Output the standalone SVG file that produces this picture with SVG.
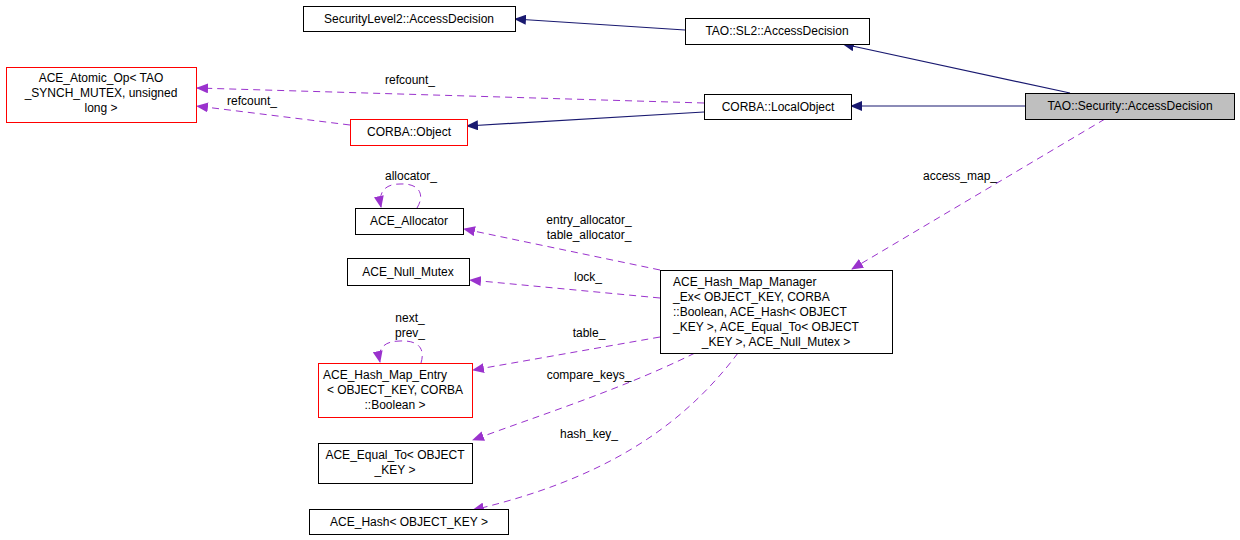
<svg xmlns="http://www.w3.org/2000/svg" width="1240" height="540" viewBox="0 0 1240 540">
<style>
text{font-family:"Liberation Sans",Arial,sans-serif;font-size:12px;fill:#000;text-anchor:middle}
.n{fill:#fff;stroke:#000;stroke-width:1}
.r{fill:#fff;stroke:#f00;stroke-width:1}
.g{fill:#bfbfbf;stroke:#000;stroke-width:1}
.inh{fill:none;stroke:#191970;stroke-width:1.2;marker-start:url(#an)}
.use{fill:none;stroke:#9a32cd;stroke-width:1;stroke-dasharray:7,5;marker-end:url(#ap)}
</style>
<defs>
<marker id="an" markerWidth="12" markerHeight="10" refX="1" refY="5" orient="auto" markerUnits="userSpaceOnUse"><path d="M12,0 L0,5 L12,10 Z" fill="#191970"/></marker>
<marker id="ap" markerWidth="12" markerHeight="10" refX="11" refY="5" orient="auto" markerUnits="userSpaceOnUse"><path d="M0,0 L12,5 L0,10 Z" fill="#9a32cd"/></marker>
</defs>
<rect width="1240" height="540" fill="#fff"/>
<g id="edges">
<path class="inh" d="M515,19 L685,30"/>
<path class="inh" d="M843,44 L1070,93"/>
<path class="inh" d="M851,106 L1025,106"/>
<path class="inh" d="M467,126 L704,112"/>
<path class="use" d="M704,103 L197,88"/>
<text x="410" y="84">refcount_</text>
<path class="use" d="M350,125 L197,106"/>
<text x="252" y="105">refcount_</text>
<path class="use" d="M1105,119 L852,269"/>
<text x="960" y="180">access_map_</text>
<path class="use" d="M660,270 L464,229"/>
<text x="589" y="224">entry_allocator_</text>
<text x="589" y="239">table_allocator_</text>
<path class="use" d="M660,298 L470,280"/>
<text x="588" y="281">lock_</text>
<path class="use" d="M660,337 L473,370"/>
<text x="589" y="337">table_</text>
<path class="use" d="M695,353 C620,390 540,415 473,440"/>
<text x="589" y="379">compare_keys_</text>
<path class="use" d="M738,353 C680,430 600,480 473,510"/>
<text x="589" y="438">hash_key_</text>
<path class="use" d="M417,208 C425,195 420,183 400,184 C385,184 378,192 381,207"/>
<text x="411" y="180">allocator_</text>
<path class="use" d="M421,363 C425,350 420,340 400,341 C385,341 377,348 380,362"/>
<text x="410" y="322">next_</text>
<text x="410" y="337">prev_</text>
</g>
<g id="n1"><rect class="n" x="303.5" y="6.5" width="212" height="25"/><text x="409" y="23">SecurityLevel2::AccessDecision</text></g>
<g id="n2"><rect class="n" x="685.5" y="18.5" width="184" height="26"/><text x="777" y="35">TAO::SL2::AccessDecision</text></g>
<g id="n3"><rect class="r" x="6.5" y="67.5" width="190" height="55"/><text x="101" y="82">ACE_Atomic_Op&lt; TAO</text><text x="101" y="97">_SYNCH_MUTEX, unsigned</text><text x="101" y="112">long &gt;</text></g>
<g id="n4"><rect class="n" x="704.5" y="94.5" width="147" height="25"/><text x="778" y="111">CORBA::LocalObject</text></g>
<g id="n5"><rect class="g" x="1025.5" y="93.5" width="209" height="26"/><text x="1130" y="110">TAO::Security::AccessDecision</text></g>
<g id="n6"><rect class="r" x="350.5" y="119.5" width="117" height="26"/><text x="409" y="136">CORBA::Object</text></g>
<g id="n7"><rect class="n" x="355.5" y="208.5" width="108" height="26"/><text x="409" y="225">ACE_Allocator</text></g>
<g id="n8"><rect class="n" x="347.5" y="258.5" width="122" height="27"/><text x="408" y="276">ACE_Null_Mutex</text></g>
<g id="n9"><rect class="n" x="660.5" y="270.5" width="232" height="83"/><text x="751" y="286" style="text-anchor:start" dx="-78">ACE_Hash_Map_Manager</text><text x="673" y="301" style="text-anchor:start">_Ex&lt; OBJECT_KEY, CORBA</text><text x="673" y="316" style="text-anchor:start">::Boolean, ACE_Hash&lt; OBJECT</text><text x="673" y="331" style="text-anchor:start">_KEY &gt;, ACE_Equal_To&lt; OBJECT</text><text x="776" y="346">_KEY &gt;, ACE_Null_Mutex &gt;</text></g>
<g id="n10"><rect class="r" x="318.5" y="363.5" width="154" height="54"/><text x="385" y="379">ACE_Hash_Map_Entry</text><text x="395" y="394">&lt; OBJECT_KEY, CORBA</text><text x="395" y="409">::Boolean &gt;</text></g>
<g id="n11"><rect class="n" x="318.5" y="443.5" width="154" height="40"/><text x="395" y="459">ACE_Equal_To&lt; OBJECT</text><text x="395" y="474">_KEY &gt;</text></g>
<g id="n12"><rect class="n" x="309.5" y="509.5" width="199" height="25"/><text x="409" y="526">ACE_Hash&lt; OBJECT_KEY &gt;</text></g>
</svg>
